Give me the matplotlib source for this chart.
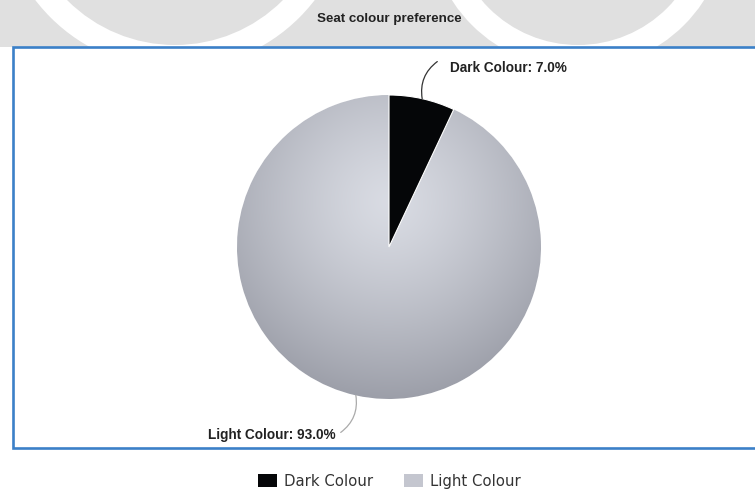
import numpy as np
import matplotlib
matplotlib.use("Agg")
import matplotlib.pyplot as plt
from matplotlib.patches import Rectangle, Circle, Patch

title = "Seat colour preference"
categories = ["Dark Colour", "Light Colour"]
shares = [7.0, 93.0]

W, H = 755, 490
fig = plt.figure(figsize=(W / 100, H / 100), dpi=100)
fig.patch.set_facecolor("white")

# background layer in pixel coordinates (y down)
bg = fig.add_axes([0, 0, 1, 1], zorder=0)
bg.set_xlim(0, W)
bg.set_ylim(H, 0)
bg.axis("off")

# faint watermark above the frame
wm = "#e0e0e0"
bg.add_patch(Rectangle((0, 0), W, 47, facecolor=wm, edgecolor="none"))
for cx, cy, r in [(175, -107, 152), (578, -81, 126)]:
    bg.add_patch(Circle((cx, cy), r + 24, facecolor="white", edgecolor="none"))
    bg.add_patch(Circle((cx, cy), r, facecolor=wm, edgecolor="none"))

# white chart frame with blue border
bg.add_patch(Rectangle((13, 47), W, 401, facecolor="white",
                       edgecolor="#3b80c8", linewidth=1.9))

fig.text(389 / W, 1 - 19 / H, title, ha="center", va="center",
         fontsize=9.6, fontweight="bold", family="Liberation Sans", color="#222222")

# pie axes: centre (389, 247), radius 152 px
cx, cy, R = 389, 247, 152
ax = fig.add_axes([(cx - R) / W, 1 - (cy + R) / H, 2 * R / W, 2 * R / H], zorder=1)
wedges, _ = ax.pie(shares, startangle=90, counterclock=False,
                   colors=["#050608", "#c4c6cf"],
                   wedgeprops=dict(edgecolor="white", linewidth=0.8))
ax.set_xlim(-1, 1)
ax.set_ylim(-1, 1)
ax.axis("off")

# radial shading for the light slice
gx, gy = np.meshgrid(np.linspace(-1, 1, 300), np.linspace(1, -1, 300))
d = np.clip(np.hypot(gx - 0.0, gy - 0.3) / 1.35, 0, 1)
c0 = np.array([0.85, 0.86, 0.89])
c1 = np.array([0.60, 0.61, 0.65])
img = c0 + (c1 - c0) * d[..., None] ** 1.3
im = ax.imshow(img, extent=(-1, 1, -1, 1), zorder=1.5)
im.set_clip_path(wedges[1])
for w in wedges:
    w.set_clip_on(False)
    w.set_zorder(2 if w is wedges[0] else 1)

# leader lines and labels
start = 0.0
for i, (name, val) in enumerate(zip(categories, shares)):
    mid = np.deg2rad((start + val / 2) / 100 * 360)
    start += val
    ex, ey = np.sin(mid), np.cos(mid)
    side = 1 if ex >= 0 else -1
    lx, ly = ex * 1.25 + side * 0.045, ey * 1.25
    ax.annotate("", xy=(ex, ey), xytext=(lx, ly), annotation_clip=False,
                arrowprops=dict(arrowstyle="-", color="#333333" if i == 0 else "#aaaaaa",
                                lw=0.9, shrinkA=0, shrinkB=0,
                                connectionstyle="arc3,rad=%.2f" % (0.3 * side * np.sign(ey))))
    dx = 0.085 if ey > 0 else 0.035
    dy = -0.04 if ey > 0 else -0.015
    ax.text(lx + side * dx, ly + dy, f"{name}: {val:.1f}%",
            ha="left" if side > 0 else "right", va="center",
            fontsize=9.8, fontweight="bold", family="Liberation Sans",
            color="#222222", clip_on=False)

handles = [Patch(facecolor=c, edgecolor="none") for c in ["#050608", "#c4c6cf"]]
fig.legend(handles, categories, loc="center", bbox_to_anchor=(389 / W, 1 - 481 / H),
           ncol=2, frameon=False, fontsize=10.7, handlelength=1.27, handleheight=1.0,
           handletextpad=0.47, columnspacing=2.08, labelcolor="#333333")

fig.savefig("out.png", dpi=100)
